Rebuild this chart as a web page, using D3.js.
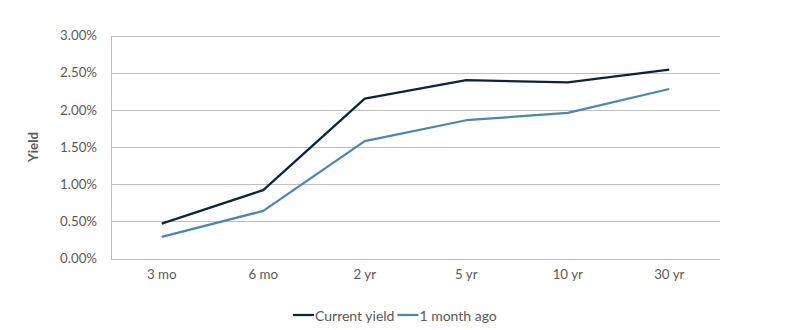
<!DOCTYPE html>
<html>
<head>
<meta charset="utf-8">
<script src="https://cdn.jsdelivr.net/npm/d3@7"></script>
<style>
  html, body { margin: 0; padding: 0; background: #fff; }
  svg text { font-family: "Source Sans Pro", Lato, "Open Sans", sans-serif; }
</style>
</head>
<body>
<svg id="chart" width="799" height="330"></svg>
<script>
// Treasury yield curve: tenors and yields (%)
const tenors = ["3 mo", "6 mo", "2 yr", "5 yr", "10 yr", "30 yr"];
const currentYield = [0.47, 0.92, 2.15, 2.40, 2.37, 2.54];
const monthAgo = [0.29, 0.64, 1.58, 1.86, 1.96, 2.28];
const yTicks = [0, 0.5, 1.0, 1.5, 2.0, 2.5, 3.0];
const seriesNames = ["Current yield", "1 month ago"];
const seriesColors = ["#0c2340", "#4a86b8"];

const svg = d3.select("#chart");
const margin = { left: 111, right: 79, top: 35.5, bottom: 71.5 };
const W = 799, H = 330;
const fontSize = "13.3px";

const x = d3.scaleBand().domain(tenors).range([margin.left, W - margin.right]);
const y = d3.scaleLinear().domain([0, 3]).range([H - margin.bottom, margin.top]);

// horizontal gridlines
svg.append("g")
  .selectAll("line")
  .data(yTicks)
  .join("line")
  .attr("x1", margin.left).attr("x2", W - margin.right)
  .attr("y1", d => Math.round(y(d)) + 0.5).attr("y2", d => Math.round(y(d)) + 0.5)
  .attr("stroke", "#bfbfbf").attr("stroke-width", 1);

// vertical axis line
svg.append("line")
  .attr("x1", margin.left + 0.5).attr("x2", margin.left + 0.5)
  .attr("y1", Math.round(y(3)) + 0.5).attr("y2", Math.round(y(0)) + 0.5)
  .attr("stroke", "#bfbfbf");

// y tick labels
const yAxis = d3.axisLeft(y).tickValues(yTicks).tickFormat(d => d.toFixed(2) + "%").tickSize(0).tickPadding(14);
const gy = svg.append("g").attr("transform", `translate(${margin.left},0)`).call(yAxis);
gy.select(".domain").remove();
gy.selectAll("text").attr("fill", "#595959").style("font-size", fontSize)
  .style("font-family", "'Source Sans Pro', Lato, 'Open Sans', sans-serif");

// x tick labels
const xAxis = d3.axisBottom(x).tickSize(0).tickPadding(11);
const gx = svg.append("g").attr("transform", `translate(0,${y(0)})`).call(xAxis);
gx.select(".domain").remove();
gx.selectAll("text").attr("fill", "#595959").style("font-size", fontSize)
  .style("font-family", "'Source Sans Pro', Lato, 'Open Sans', sans-serif");

// y axis title
svg.append("text")
  .attr("transform", `translate(33,${(y(0) + y(3)) / 2}) rotate(-90)`)
  .attr("text-anchor", "middle").attr("dominant-baseline", "central")
  .attr("fill", "#595959").attr("font-weight", "bold").style("font-size", fontSize)
  .text("Yield");

// series lines
const line = d3.line().x((d, i) => x(tenors[i]) + x.bandwidth() / 2).y(d => y(d));
[currentYield, monthAgo].forEach((vals, k) => {
  svg.append("path")
    .datum(vals)
    .attr("d", line)
    .attr("fill", "none")
    .attr("stroke", seriesColors[k])
    .attr("stroke-width", 2.25)
    .attr("stroke-linejoin", "round");
});

// legend
const legend = svg.append("g").attr("transform", "translate(293,315)");
let lx = 0;
seriesNames.forEach((name, k) => {
  legend.append("line")
    .attr("x1", lx).attr("x2", lx + 21).attr("y1", 0).attr("y2", 0)
    .attr("stroke", seriesColors[k]).attr("stroke-width", 2.25);
  const t = legend.append("text")
    .attr("x", lx + 22).attr("y", 0).attr("dominant-baseline", "central")
    .attr("fill", "#595959").style("font-size", "14px")
    .text(name);
  lx += 22 + t.node().getComputedTextLength() + 3;
});
</script>
</body>
</html>
